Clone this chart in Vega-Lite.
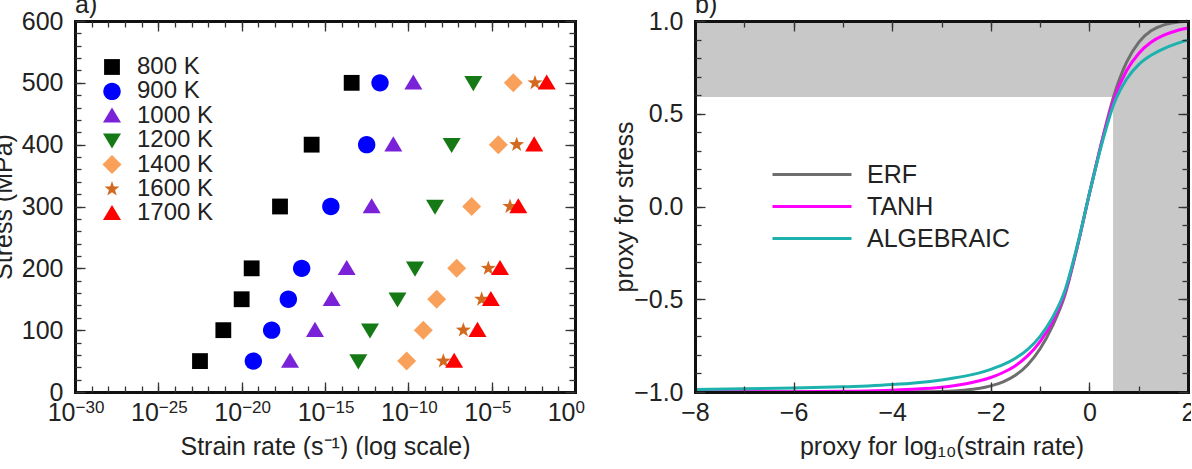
{
  "$schema": "https://vega.github.io/schema/vega-lite/v6.json",
  "background": "white",
  "padding": {"left": -9, "top": -7, "right": -4, "bottom": 0},
  "spacing": 27,
  "resolve": {"scale": {"color": "independent", "shape": "independent"}, "legend": {"color": "independent", "shape": "independent"}},
  "datasets": {
    "pts": [
      {"T": "800 K", "rate": 3.98e-14, "stress": 500},
      {"T": "800 K", "rate": 1.58e-16, "stress": 400},
      {"T": "800 K", "rate": 2.0e-18, "stress": 300},
      {"T": "800 K", "rate": 3.98e-20, "stress": 200},
      {"T": "800 K", "rate": 1.0e-20, "stress": 150},
      {"T": "800 K", "rate": 7.94e-22, "stress": 100},
      {"T": "800 K", "rate": 3.16e-23, "stress": 50},
      {"T": "900 K", "rate": 2.0e-12, "stress": 500},
      {"T": "900 K", "rate": 3.16e-13, "stress": 400},
      {"T": "900 K", "rate": 2.24e-15, "stress": 300},
      {"T": "900 K", "rate": 3.98e-17, "stress": 200},
      {"T": "900 K", "rate": 6.31e-18, "stress": 150},
      {"T": "900 K", "rate": 6.31e-19, "stress": 100},
      {"T": "900 K", "rate": 5.01e-20, "stress": 50},
      {"T": "1000 K", "rate": 2.0e-10, "stress": 500},
      {"T": "1000 K", "rate": 1.26e-11, "stress": 400},
      {"T": "1000 K", "rate": 6.31e-13, "stress": 300},
      {"T": "1000 K", "rate": 2.0e-14, "stress": 200},
      {"T": "1000 K", "rate": 2.51e-15, "stress": 150},
      {"T": "1000 K", "rate": 2.51e-16, "stress": 100},
      {"T": "1000 K", "rate": 7.94e-18, "stress": 50},
      {"T": "1200 K", "rate": 7.94e-7, "stress": 500},
      {"T": "1200 K", "rate": 3.98e-8, "stress": 400},
      {"T": "1200 K", "rate": 3.98e-9, "stress": 300},
      {"T": "1200 K", "rate": 2.51e-10, "stress": 200},
      {"T": "1200 K", "rate": 2.24e-11, "stress": 150},
      {"T": "1200 K", "rate": 5.01e-13, "stress": 100},
      {"T": "1200 K", "rate": 1.0e-13, "stress": 50},
      {"T": "1400 K", "rate": 2.0e-4, "stress": 500},
      {"T": "1400 K", "rate": 2.51e-5, "stress": 400},
      {"T": "1400 K", "rate": 6.31e-7, "stress": 300},
      {"T": "1400 K", "rate": 7.94e-8, "stress": 200},
      {"T": "1400 K", "rate": 5.01e-9, "stress": 150},
      {"T": "1400 K", "rate": 7.94e-10, "stress": 100},
      {"T": "1400 K", "rate": 7.94e-11, "stress": 50},
      {"T": "1600 K", "rate": 3.98e-3, "stress": 500},
      {"T": "1600 K", "rate": 3.16e-4, "stress": 400},
      {"T": "1600 K", "rate": 1.26e-4, "stress": 300},
      {"T": "1600 K", "rate": 6.31e-6, "stress": 200},
      {"T": "1600 K", "rate": 2.51e-6, "stress": 150},
      {"T": "1600 K", "rate": 2.0e-7, "stress": 100},
      {"T": "1600 K", "rate": 1.26e-8, "stress": 50},
      {"T": "1700 K", "rate": 2.0e-2, "stress": 500},
      {"T": "1700 K", "rate": 3.55e-3, "stress": 400},
      {"T": "1700 K", "rate": 3.98e-4, "stress": 300},
      {"T": "1700 K", "rate": 3.16e-5, "stress": 200},
      {"T": "1700 K", "rate": 8.91e-6, "stress": 150},
      {"T": "1700 K", "rate": 1.41e-6, "stress": 100},
      {"T": "1700 K", "rate": 5.62e-8, "stress": 50}
    ],
    "shade": [
      {"x1": -8, "x2": 2, "y1": 0.59, "y2": 1},
      {"x1": 0.48, "x2": 2, "y1": -1, "y2": 1}
    ],
    "curves": [
      {"curve": "ERF", "x": -8, "y": -1.0},
      {"curve": "ERF", "x": -7, "y": -1.0},
      {"curve": "ERF", "x": -6, "y": -1.0},
      {"curve": "ERF", "x": -5, "y": -1.0},
      {"curve": "ERF", "x": -4.5, "y": -1.0},
      {"curve": "ERF", "x": -4, "y": -0.9995},
      {"curve": "ERF", "x": -3.5, "y": -0.999},
      {"curve": "ERF", "x": -3, "y": -0.997},
      {"curve": "ERF", "x": -2.75, "y": -0.994},
      {"curve": "ERF", "x": -2.5, "y": -0.989},
      {"curve": "ERF", "x": -2.25, "y": -0.981},
      {"curve": "ERF", "x": -2, "y": -0.967},
      {"curve": "ERF", "x": -1.75, "y": -0.945},
      {"curve": "ERF", "x": -1.5, "y": -0.91},
      {"curve": "ERF", "x": -1.25, "y": -0.853},
      {"curve": "ERF", "x": -1, "y": -0.767},
      {"curve": "ERF", "x": -0.75, "y": -0.645},
      {"curve": "ERF", "x": -0.5, "y": -0.48},
      {"curve": "ERF", "x": -0.25, "y": -0.223},
      {"curve": "ERF", "x": 0, "y": 0.069},
      {"curve": "ERF", "x": 0.25, "y": 0.35},
      {"curve": "ERF", "x": 0.5, "y": 0.6},
      {"curve": "ERF", "x": 0.75, "y": 0.775},
      {"curve": "ERF", "x": 1, "y": 0.885},
      {"curve": "ERF", "x": 1.25, "y": 0.947},
      {"curve": "ERF", "x": 1.5, "y": 0.978},
      {"curve": "ERF", "x": 1.75, "y": 0.992},
      {"curve": "ERF", "x": 2, "y": 0.998},
      {"curve": "TANH", "x": -8, "y": -0.999},
      {"curve": "TANH", "x": -7, "y": -0.999},
      {"curve": "TANH", "x": -6, "y": -0.998},
      {"curve": "TANH", "x": -5, "y": -0.996},
      {"curve": "TANH", "x": -4.5, "y": -0.994},
      {"curve": "TANH", "x": -4, "y": -0.99},
      {"curve": "TANH", "x": -3.5, "y": -0.984},
      {"curve": "TANH", "x": -3, "y": -0.974},
      {"curve": "TANH", "x": -2.75, "y": -0.966},
      {"curve": "TANH", "x": -2.5, "y": -0.955},
      {"curve": "TANH", "x": -2.25, "y": -0.941},
      {"curve": "TANH", "x": -2, "y": -0.922},
      {"curve": "TANH", "x": -1.75, "y": -0.895},
      {"curve": "TANH", "x": -1.5, "y": -0.858},
      {"curve": "TANH", "x": -1.25, "y": -0.804},
      {"curve": "TANH", "x": -1, "y": -0.728},
      {"curve": "TANH", "x": -0.75, "y": -0.62},
      {"curve": "TANH", "x": -0.5, "y": -0.468},
      {"curve": "TANH", "x": -0.25, "y": -0.22},
      {"curve": "TANH", "x": 0, "y": 0.069},
      {"curve": "TANH", "x": 0.25, "y": 0.345},
      {"curve": "TANH", "x": 0.5, "y": 0.58},
      {"curve": "TANH", "x": 0.75, "y": 0.73},
      {"curve": "TANH", "x": 1, "y": 0.825},
      {"curve": "TANH", "x": 1.25, "y": 0.885},
      {"curve": "TANH", "x": 1.5, "y": 0.922},
      {"curve": "TANH", "x": 1.75, "y": 0.946},
      {"curve": "TANH", "x": 2, "y": 0.962},
      {"curve": "ALGEBRAIC", "x": -8, "y": -0.986},
      {"curve": "ALGEBRAIC", "x": -7, "y": -0.983},
      {"curve": "ALGEBRAIC", "x": -6, "y": -0.979},
      {"curve": "ALGEBRAIC", "x": -5, "y": -0.972},
      {"curve": "ALGEBRAIC", "x": -4.5, "y": -0.967},
      {"curve": "ALGEBRAIC", "x": -4, "y": -0.96},
      {"curve": "ALGEBRAIC", "x": -3.5, "y": -0.95},
      {"curve": "ALGEBRAIC", "x": -3, "y": -0.935},
      {"curve": "ALGEBRAIC", "x": -2.75, "y": -0.925},
      {"curve": "ALGEBRAIC", "x": -2.5, "y": -0.913},
      {"curve": "ALGEBRAIC", "x": -2.25, "y": -0.898},
      {"curve": "ALGEBRAIC", "x": -2, "y": -0.878},
      {"curve": "ALGEBRAIC", "x": -1.75, "y": -0.853},
      {"curve": "ALGEBRAIC", "x": -1.5, "y": -0.818},
      {"curve": "ALGEBRAIC", "x": -1.25, "y": -0.77},
      {"curve": "ALGEBRAIC", "x": -1, "y": -0.7},
      {"curve": "ALGEBRAIC", "x": -0.75, "y": -0.6},
      {"curve": "ALGEBRAIC", "x": -0.5, "y": -0.455},
      {"curve": "ALGEBRAIC", "x": -0.25, "y": -0.215},
      {"curve": "ALGEBRAIC", "x": 0, "y": 0.069},
      {"curve": "ALGEBRAIC", "x": 0.25, "y": 0.335},
      {"curve": "ALGEBRAIC", "x": 0.5, "y": 0.555},
      {"curve": "ALGEBRAIC", "x": 0.75, "y": 0.685},
      {"curve": "ALGEBRAIC", "x": 1, "y": 0.765},
      {"curve": "ALGEBRAIC", "x": 1.25, "y": 0.815},
      {"curve": "ALGEBRAIC", "x": 1.5, "y": 0.85},
      {"curve": "ALGEBRAIC", "x": 1.75, "y": 0.877},
      {"curve": "ALGEBRAIC", "x": 2, "y": 0.897}
    ]
  },
  "config": {
    "view": {"stroke": null},
    "font": "Liberation Sans",
    "axis": {
      "domain": false, "grid": false, "zindex": 1,
      "domainColor": "#111", "domainWidth": 3, "domainCap": "square",
      "labelFont": "Liberation Sans", "labelFontSize": 25, "labelColor": "#222",
      "titleFont": "Liberation Sans", "titleFontSize": 25, "titleFontWeight": "normal", "titleColor": "#222",
      "tickColor": "#333", "tickWidth": 1.3,
      "labelFlush": false, "labelOverlap": false, "labelBound": false
    },
    "legend": {"labelFont": "Liberation Sans", "labelColor": "#222"},
    "title": {"font": "Liberation Sans", "fontSize": 25, "fontWeight": "normal", "anchor": "start", "frame": "group", "offset": -9, "color": "#222"}
  },
  "hconcat": [
    {
      "width": 500,
      "height": 371,
      "title": {"text": "a)"},
      "data": {"name": "pts"},
      "resolve": {"axis": {"x": "independent", "y": "independent"}},
      "layer": [
        {
          "mark": {"type": "point", "filled": true, "size": 250, "opacity": 1, "strokeWidth": 0},
          "encoding": {
            "x": {"field": "rate", "type": "quantitative",
              "scale": {"type": "log", "domain": [1e-30, 1], "nice": false},
              "axis": {"orient": "bottom", "zindex": 1, "values": [1e-30, 1e-25, 1e-20, 1e-15, 1e-10, 1e-5, 1],
                "labelExpr": "'10'", "labelAlign": "right", "tickSize": -10, "labelPadding": 18,
                "title": "Strain rate (s⁻¹) (log scale)", "titlePadding": 9, "domain": true}},
            "y": {"field": "stress", "type": "quantitative",
              "scale": {"domain": [0, 600], "nice": false, "zero": false},
              "axis": {"orient": "left", "zindex": 1, "values": [0, 100, 200, 300, 400, 500, 600],
                "tickSize": -10, "labelPadding": 22, "title": "Stress (MPa)", "titlePadding": 5, "domain": true}},
            "color": {"field": "T", "type": "nominal",
              "scale": {"domain": ["800 K", "900 K", "1000 K", "1200 K", "1400 K", "1600 K", "1700 K"],
                "range": ["#000000", "#0000ff", "#7a22d8", "#157a15", "#f9a05b", "#d2691e", "#ff0000"]},
              "legend": {"orient": "none", "legendX": 25, "legendY": 34, "title": null, "padding": 0,
                "labelFontSize": 24, "labelOffset": 13, "rowPadding": 0.4, "symbolSize": 250, "symbolStrokeWidth": 0}},
            "shape": {"field": "T", "type": "nominal",
              "scale": {"domain": ["800 K", "900 K", "1000 K", "1200 K", "1400 K", "1600 K", "1700 K"],
                "range": ["square",
                  "M-1.1,0A1.1,1.1 0 1,0 1.1,0A1.1,1.1 0 1,0 -1.1,0Z",
                  "M0,-1.05L1.14,0.85L-1.14,0.85Z",
                  "M0,1.05L1.14,-0.85L-1.14,-0.85Z",
                  "M0,-1.2L1.2,0L0,1.2L-1.2,0Z",
                  "M0,-1L0.235,-0.324L0.951,-0.309L0.38,0.124L0.588,0.809L0,0.4L-0.588,0.809L-0.38,0.124L-0.951,-0.309L-0.235,-0.324Z",
                  "M0,-1.05L1.14,0.85L-1.14,0.85Z"]},
              "legend": {"orient": "none", "legendX": 25, "legendY": 34, "title": null, "padding": 0,
                "labelFontSize": 24, "labelOffset": 13, "rowPadding": 0.4, "symbolSize": 250, "symbolStrokeWidth": 0}}
          }
        },
        {
          "mark": {"type": "point", "opacity": 0},
          "encoding": {
            "x": {"field": "rate", "type": "quantitative",
              "scale": {"type": "log", "domain": [1e-30, 1], "nice": false},
              "axis": {"orient": "bottom", "zindex": 1, "values": [1e-30, 1e-29, 1e-28, 1e-27, 1e-26, 1e-25, 1e-24, 1e-23, 1e-22, 1e-21, 1e-20, 1e-19, 1e-18, 1e-17, 1e-16, 1e-15, 1e-14, 1e-13, 1e-12, 1e-11, 1e-10, 1e-9, 1e-8, 1e-7, 1e-6, 1e-5, 1e-4, 1e-3, 1e-2, 1e-1, 1],
                "tickSize": -6, "labels": false, "title": null, "domain": false}},
            "y": {"field": "stress", "type": "quantitative",
              "scale": {"domain": [0, 600], "nice": false, "zero": false},
              "axis": {"orient": "left", "zindex": 1, "values": [0, 20, 40, 60, 80, 100, 120, 140, 160, 180, 200, 220, 240, 260, 280, 300, 320, 340, 360, 380, 400, 420, 440, 460, 480, 500, 520, 540, 560, 580, 600],
                "tickSize": -6, "labels": false, "title": null, "domain": false}}
          }
        },
        {
          "mark": {"type": "point", "opacity": 0},
          "encoding": {
            "x": {"field": "rate", "type": "quantitative",
              "scale": {"type": "log", "domain": [1e-30, 1], "nice": false},
              "axis": {"orient": "top", "zindex": 1, "values": [1e-30, 1e-25, 1e-20, 1e-15, 1e-10, 1e-5, 1],
                "tickSize": -10, "labels": false, "title": null, "domain": true}},
            "y": {"field": "stress", "type": "quantitative",
              "scale": {"domain": [0, 600], "nice": false, "zero": false},
              "axis": {"orient": "right", "zindex": 1, "values": [0, 100, 200, 300, 400, 500, 600],
                "tickSize": -10, "labels": false, "title": null, "domain": true}}
          }
        },
        {
          "mark": {"type": "point", "opacity": 0},
          "encoding": {
            "x": {"field": "rate", "type": "quantitative",
              "scale": {"type": "log", "domain": [1e-30, 1], "nice": false},
              "axis": {"orient": "top", "zindex": 1, "values": [1e-30, 1e-29, 1e-28, 1e-27, 1e-26, 1e-25, 1e-24, 1e-23, 1e-22, 1e-21, 1e-20, 1e-19, 1e-18, 1e-17, 1e-16, 1e-15, 1e-14, 1e-13, 1e-12, 1e-11, 1e-10, 1e-9, 1e-8, 1e-7, 1e-6, 1e-5, 1e-4, 1e-3, 1e-2, 1e-1, 1],
                "tickSize": -6, "labels": false, "title": null, "domain": false}},
            "y": {"field": "stress", "type": "quantitative",
              "scale": {"domain": [0, 600], "nice": false, "zero": false},
              "axis": {"orient": "right", "zindex": 1, "values": [0, 20, 40, 60, 80, 100, 120, 140, 160, 180, 200, 220, 240, 260, 280, 300, 320, 340, 360, 380, 400, 420, 440, 460, 480, 500, 520, 540, 560, 580, 600],
                "tickSize": -6, "labels": false, "title": null, "domain": false}}
          }
        },
        {
          "mark": {"type": "point", "opacity": 0},
          "encoding": {
            "x": {"field": "rate", "type": "quantitative",
              "scale": {"type": "log", "domain": [1e-30, 1], "nice": false},
              "axis": {"orient": "bottom", "zindex": 1, "values": [1e-30, 1e-25, 1e-20, 1e-15, 1e-10, 1e-5, 1],
                "labelExpr": "datum.value >= 0.5 ? '0' : '−' + round(-log(datum.value) / LN10)",
                "labelFontSize": 17, "labelAlign": "left", "labelPadding": 7, "ticks": false, "tickSize": 0,
                "title": null, "domain": false}},
            "y": {"field": "stress", "type": "quantitative",
              "scale": {"domain": [0, 600], "nice": false, "zero": false}, "axis": null}
          }
        }
      ]
    },
    {
      "width": 493,
      "height": 371,
      "title": {"text": "b)"},
      "resolve": {"axis": {"x": "independent", "y": "independent"}},
      "layer": [
        {
          "data": {"name": "shade"},
          "mark": {"type": "rect", "color": "#c8c8c8"},
          "encoding": {
            "x": {"field": "x1", "type": "quantitative",
              "scale": {"domain": [-8, 2], "nice": false, "zero": false},
              "axis": {"orient": "bottom", "zindex": 1, "values": [-8, -6, -4, -2, 0, 2], "format": "d",
                "tickSize": -10, "labelPadding": 18, "title": "proxy for log₁₀(strain rate)", "titlePadding": 9, "domain": true}},
            "x2": {"field": "x2"},
            "y": {"field": "y1", "type": "quantitative",
              "scale": {"domain": [-1, 1], "nice": false, "zero": false},
              "axis": {"orient": "left", "zindex": 1, "values": [-1, -0.5, 0, 0.5, 1], "format": ".1f",
                "tickSize": -10, "labelPadding": 22, "title": "proxy for stress", "titlePadding": -4, "domain": true}},
            "y2": {"field": "y2"}
          }
        },
        {
          "data": {"name": "curves"},
          "mark": {"type": "line", "strokeWidth": 3, "interpolate": "monotone"},
          "encoding": {
            "x": {"field": "x", "type": "quantitative",
              "scale": {"domain": [-8, 2], "nice": false, "zero": false},
              "axis": {"orient": "bottom", "zindex": 1, "values": [-8, -7, -6, -5, -4, -3, -2, -1, 0, 1, 2],
                "tickSize": -6, "labels": false, "title": null, "domain": false}},
            "y": {"field": "y", "type": "quantitative",
              "scale": {"domain": [-1, 1], "nice": false, "zero": false},
              "axis": {"orient": "left", "zindex": 1, "values": [-1, -0.9, -0.8, -0.7, -0.6, -0.5, -0.4, -0.3, -0.2, -0.1, 0, 0.1, 0.2, 0.3, 0.4, 0.5, 0.6, 0.7, 0.8, 0.9, 1],
                "tickSize": -6, "labels": false, "title": null, "domain": false}},
            "color": {"field": "curve", "type": "nominal",
              "scale": {"domain": ["ERF", "TANH", "ALGEBRAIC"], "range": ["#6e6e6e", "#ff00ff", "#1eb2ae"]},
              "legend": {"orient": "none", "legendX": 104.5, "legendY": 141, "title": null, "padding": 0,
                "labelFontSize": 25, "labelOffset": 42.5, "rowPadding": 6,
                "symbolType": "M-4,0H4", "symbolSize": 390, "symbolStrokeWidth": 3}}
          }
        },
        {
          "data": {"name": "curves"},
          "mark": {"type": "point", "opacity": 0},
          "encoding": {
            "x": {"field": "x", "type": "quantitative",
              "scale": {"domain": [-8, 2], "nice": false, "zero": false},
              "axis": {"orient": "top", "zindex": 1, "values": [-8, -6, -4, -2, 0, 2],
                "tickSize": -10, "labels": false, "title": null, "domain": true}},
            "y": {"field": "y", "type": "quantitative",
              "scale": {"domain": [-1, 1], "nice": false, "zero": false},
              "axis": {"orient": "right", "zindex": 1, "values": [-1, -0.5, 0, 0.5, 1],
                "tickSize": -10, "labels": false, "title": null, "domain": true}}
          }
        },
        {
          "data": {"name": "curves"},
          "mark": {"type": "point", "opacity": 0},
          "encoding": {
            "x": {"field": "x", "type": "quantitative",
              "scale": {"domain": [-8, 2], "nice": false, "zero": false},
              "axis": {"orient": "top", "zindex": 1, "values": [-8, -7, -6, -5, -4, -3, -2, -1, 0, 1, 2],
                "tickSize": -6, "labels": false, "title": null, "domain": false}},
            "y": {"field": "y", "type": "quantitative",
              "scale": {"domain": [-1, 1], "nice": false, "zero": false},
              "axis": {"orient": "right", "zindex": 1, "values": [-1, -0.9, -0.8, -0.7, -0.6, -0.5, -0.4, -0.3, -0.2, -0.1, 0, 0.1, 0.2, 0.3, 0.4, 0.5, 0.6, 0.7, 0.8, 0.9, 1],
                "tickSize": -6, "labels": false, "title": null, "domain": false}}
          }
        }
      ]
    }
  ]
}
